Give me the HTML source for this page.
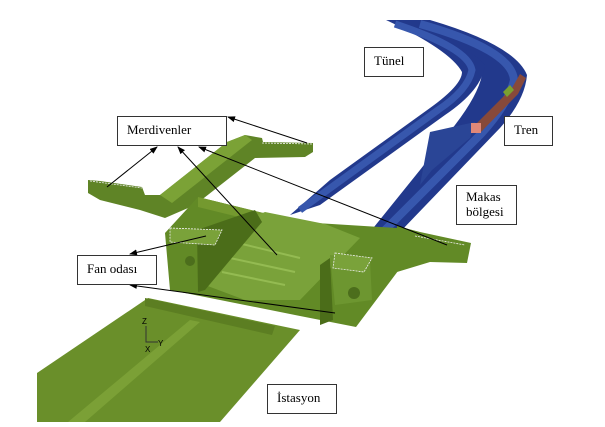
<!DOCTYPE html>
<html><head><style>
body{margin:0;background:#fff;}
.lb{position:absolute;background:#fff;border:1px solid #333;font-family:"Liberation Serif",serif;font-size:13px;color:#000;box-sizing:border-box;padding:5px 0 0 9px;line-height:15px;}
</style></head><body>
<div style="position:relative;width:605px;height:427px;overflow:hidden">
<svg width="605" height="427" style="position:absolute;left:0;top:0">
<defs>
<marker id="ah" markerWidth="8" markerHeight="6" refX="7" refY="3" orient="auto"><path d="M0,0 L8,3 L0,6 z" fill="#000"/></marker>
</defs>
<!-- tunnel tubes -->
<path d="M386,20 L430,20 Q515,45 527,75 Q525,100 500,128 L400,232 L370,232 L420,170 L455,125 Q478,95 482,75 Q470,48 386,20 Z" fill="#22398c"/>
<path d="M386,20 Q470,45 485,65 Q482,90 445,115 L320,205 L290,215 L330,180 L430,108 Q462,85 462,72 Q450,50 386,20 Z" fill="#22398c"/>
<g fill="none">
<path d="M395,24 Q468,48 472,70 Q468,90 438,110 L300,210" stroke="#3757ad" stroke-width="7"/>
<path d="M420,24 Q512,50 514,80 Q508,105 480,135 L385,230" stroke="#3757ad" stroke-width="8"/>
</g>
<path d="M430,132 L475,122 L470,138 L432,170 L420,185 Z" fill="#2a4596"/>
<!-- train -->
<path d="M474,126 L512,88 L520,74 L526,78 L518,94 L481,132 Z" fill="#87493a"/>
<path d="M503,92 L510,85 L514,90 L507,97 Z" fill="#7aa030"/>
<rect x="471" y="123" width="10" height="10" fill="#e08878"/>
<!-- station slab -->
<path d="M37,373 L148,298 L300,330 L220,422 L37,422 Z" fill="#6a8f2a"/>
<path d="M68,422 L190,320 L200,322 L85,422 Z" fill="#7ba036"/>
<path d="M145,298 L275,326 L272,335 L145,306 Z" fill="#5c7e22"/>
<!-- stairs left arm -->
<path d="M88,180 L100,181 L142,187 L145,195 L160,195 L227,142 L245,135 L262,138 L263,142 L313,143 L313,152 L305,157 L255,158 L195,205 L165,218 L140,210 L100,200 L88,193 Z" fill="#5f8426"/>
<path d="M160,195 L227,142 L245,135 L252,140 L172,203 Z" fill="#7ba236"/>
<path d="M90,181 L142,188 M262,143 L312,144" stroke="#eee" stroke-dasharray="2,1" stroke-width="0.8"/>
<!-- central block -->
<path d="M165,233 L198,197 L300,222 L397,228 L401,267 L389,283 L356,327 L300,316 L170,290 Z" fill="#628a26"/>
<path d="M198,197 L300,222 L300,232 L198,207 Z" fill="#74992f"/>
<path d="M210,235 L265,212 L325,224 L360,238 L300,300 L245,300 L205,285 Z" fill="#7aa23a"/>
<path d="M238,243 L300,258 M230,258 L295,272 M222,272 L285,285" stroke="#94bb52" stroke-width="2"/>
<path d="M197,230 L255,210 L262,222 L205,290 L198,292 Z" fill="#4b6d19"/>
<path d="M320,265 L330,258 L333,320 L320,325 Z" fill="#4b6d19"/>
<path d="M330,255 L370,260 L372,300 L335,305 Z" fill="#6d9630"/>
<circle cx="354" cy="293" r="6" fill="#4c6e1c"/><circle cx="190" cy="261" r="5" fill="#4c6e1c"/>
<path d="M170,228 L222,230 L215,245 L170,242 Z" fill="#7aa23a" stroke="#eee" stroke-dasharray="2,1" stroke-width="0.8"/>
<path d="M335,253 L372,258 L364,272 L333,268 Z" fill="#7aa23a" stroke="#eee" stroke-dasharray="2,1" stroke-width="0.8"/>
<!-- right arm -->
<path d="M397,226 L420,232 L471,243 L467,263 L430,262 L397,272 Z" fill="#628a26"/>
<path d="M415,236 L465,245" stroke="#eee" stroke-dasharray="2,1" stroke-width="0.8"/>
<!-- axis -->
<g stroke="#333" stroke-width="1" fill="none"><path d="M146,326 L146,342 L158,342"/></g>
<text x="142" y="324" font-size="8" font-family="Liberation Sans">Z</text>
<text x="158" y="346" font-size="8" font-family="Liberation Sans">Y</text>
<text x="145" y="352" font-size="8" font-family="Liberation Sans">X</text>
<!-- arrows -->
<g stroke="#000" stroke-width="1" fill="none" marker-end="url(#ah)">
<line x1="107" y1="187" x2="157" y2="147"/>
<line x1="277" y1="255" x2="178" y2="147"/>
<line x1="447" y1="245" x2="199" y2="147"/>
<line x1="307" y1="143" x2="228" y2="117"/>
<line x1="206" y1="236" x2="130" y2="254"/>
<line x1="335" y1="313" x2="130" y2="285"/>
</g>
</svg>
<div class="lb" style="left:364px;top:47px;width:60px;height:30px">Tünel</div>
<div class="lb" style="left:117px;top:116px;width:110px;height:30px">Merdivenler</div>
<div class="lb" style="left:504px;top:116px;width:49px;height:30px">Tren</div>
<div class="lb" style="left:456px;top:185px;width:61px;height:40px;padding-top:3px">Makas<br>bölgesi</div>
<div class="lb" style="left:77px;top:255px;width:80px;height:30px">Fan odası</div>
<div class="lb" style="left:267px;top:384px;width:70px;height:30px">İstasyon</div>
</div>
</body></html>
